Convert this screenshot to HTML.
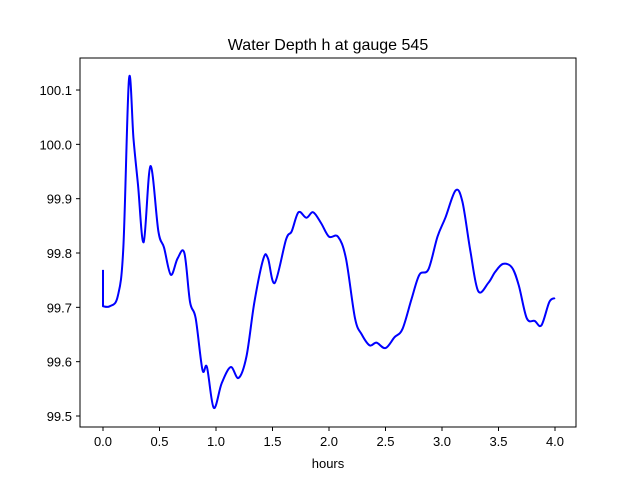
<!DOCTYPE html>
<html><head><meta charset="utf-8"><style>
body{margin:0;background:#fff}
svg{display:block;font-family:"Liberation Sans",sans-serif}
</style></head><body>
<svg id="chart" width="640" height="480">
<rect width="640" height="480" fill="#fff"/>
<text x="328" y="50" text-anchor="middle" font-size="16">Water Depth h at gauge 545</text>
<g id="xticks"></g><g id="yticks"></g>
<path id="series" fill="none" stroke="#0000ff" stroke-width="2" stroke-linejoin="round"/>
<rect x="80" y="58" width="496" height="369" fill="none" stroke="#000" stroke-width="1"/>
<text x="328" y="468" text-anchor="middle" font-size="13">hours</text>
</svg>
<script>
const hours=[0,0,0.06,0.13,0.18,0.23,0.27,0.31,0.36,0.42,0.49,0.54,0.60,0.66,0.72,0.77,0.82,0.88,0.92,0.98,1.05,1.13,1.20,1.27,1.34,1.42,1.46,1.52,1.62,1.67,1.73,1.80,1.86,1.93,2.00,2.08,2.15,2.23,2.29,2.36,2.42,2.50,2.58,2.65,2.73,2.80,2.88,2.96,3.03,3.12,3.18,3.25,3.32,3.41,3.47,3.54,3.62,3.68,3.75,3.82,3.88,3.95,4.0];
const depth=[99.769,99.702,99.702,99.72,99.81,100.12,100.01,99.925,99.82,99.96,99.84,99.81,99.76,99.79,99.80,99.71,99.68,99.585,99.59,99.515,99.56,99.59,99.57,99.61,99.71,99.79,99.79,99.745,99.825,99.84,99.875,99.865,99.875,99.855,99.83,99.83,99.79,99.68,99.65,99.63,99.635,99.625,99.645,99.66,99.715,99.76,99.77,99.83,99.865,99.915,99.895,99.805,99.73,99.745,99.765,99.78,99.773,99.74,99.68,99.675,99.667,99.71,99.717];
const xTickLabels=["0.0","0.5","1.0","1.5","2.0","2.5","3.0","3.5","4.0"];
const yTickLabels=["99.5","99.6","99.7","99.8","99.9","100.0","100.1"];
const X=t=>103+t*113;
const Y=v=>416-(v-99.5)*543.3;
const NS="http://www.w3.org/2000/svg";
const xg=document.getElementById('xticks'),yg=document.getElementById('yticks');
xTickLabels.forEach(l=>{const x=X(parseFloat(l));
 const ln=document.createElementNS(NS,'line');ln.setAttribute('x1',x);ln.setAttribute('x2',x);ln.setAttribute('y1',427);ln.setAttribute('y2',431);ln.setAttribute('stroke','#000');
 
 xg.appendChild(ln);
 const t=document.createElementNS(NS,'text');t.setAttribute('x',x);t.setAttribute('y',446);t.setAttribute('text-anchor','middle');t.setAttribute('font-size','13');t.textContent=l;
 
 xg.appendChild(t);});
yTickLabels.forEach(l=>{const y=Y(parseFloat(l));
 const ln=document.createElementNS(NS,'line');ln.setAttribute('x1',76);ln.setAttribute('x2',80);ln.setAttribute('y1',y);ln.setAttribute('y2',y);ln.setAttribute('stroke','#000');
 
 yg.appendChild(ln);
 const t=document.createElementNS(NS,'text');t.setAttribute('x',72);t.setAttribute('y',y+5);t.setAttribute('text-anchor','end');t.setAttribute('font-size','13');t.textContent=l;
 
 yg.appendChild(t);});
const P=hours.map((h,i)=>[X(h),Y(depth[i])]);
let d=`M${P[0][0]},${P[0][1]} L${P[1][0]},${P[1][1]}`;
for(let i=1;i<P.length-1;i++){const p0=P[Math.max(1,i-1)],p1=P[i],p2=P[i+1],p3=P[Math.min(P.length-1,i+2)];
 const c1=[p1[0]+(p2[0]-p0[0])/6,p1[1]+(p2[1]-p0[1])/6],c2=[p2[0]-(p3[0]-p1[0])/6,p2[1]-(p3[1]-p1[1])/6];
 d+=` C${c1[0]},${c1[1]} ${c2[0]},${c2[1]} ${p2[0]},${p2[1]}`;}
document.getElementById('series').setAttribute('d',d);
</script>
</body></html>
